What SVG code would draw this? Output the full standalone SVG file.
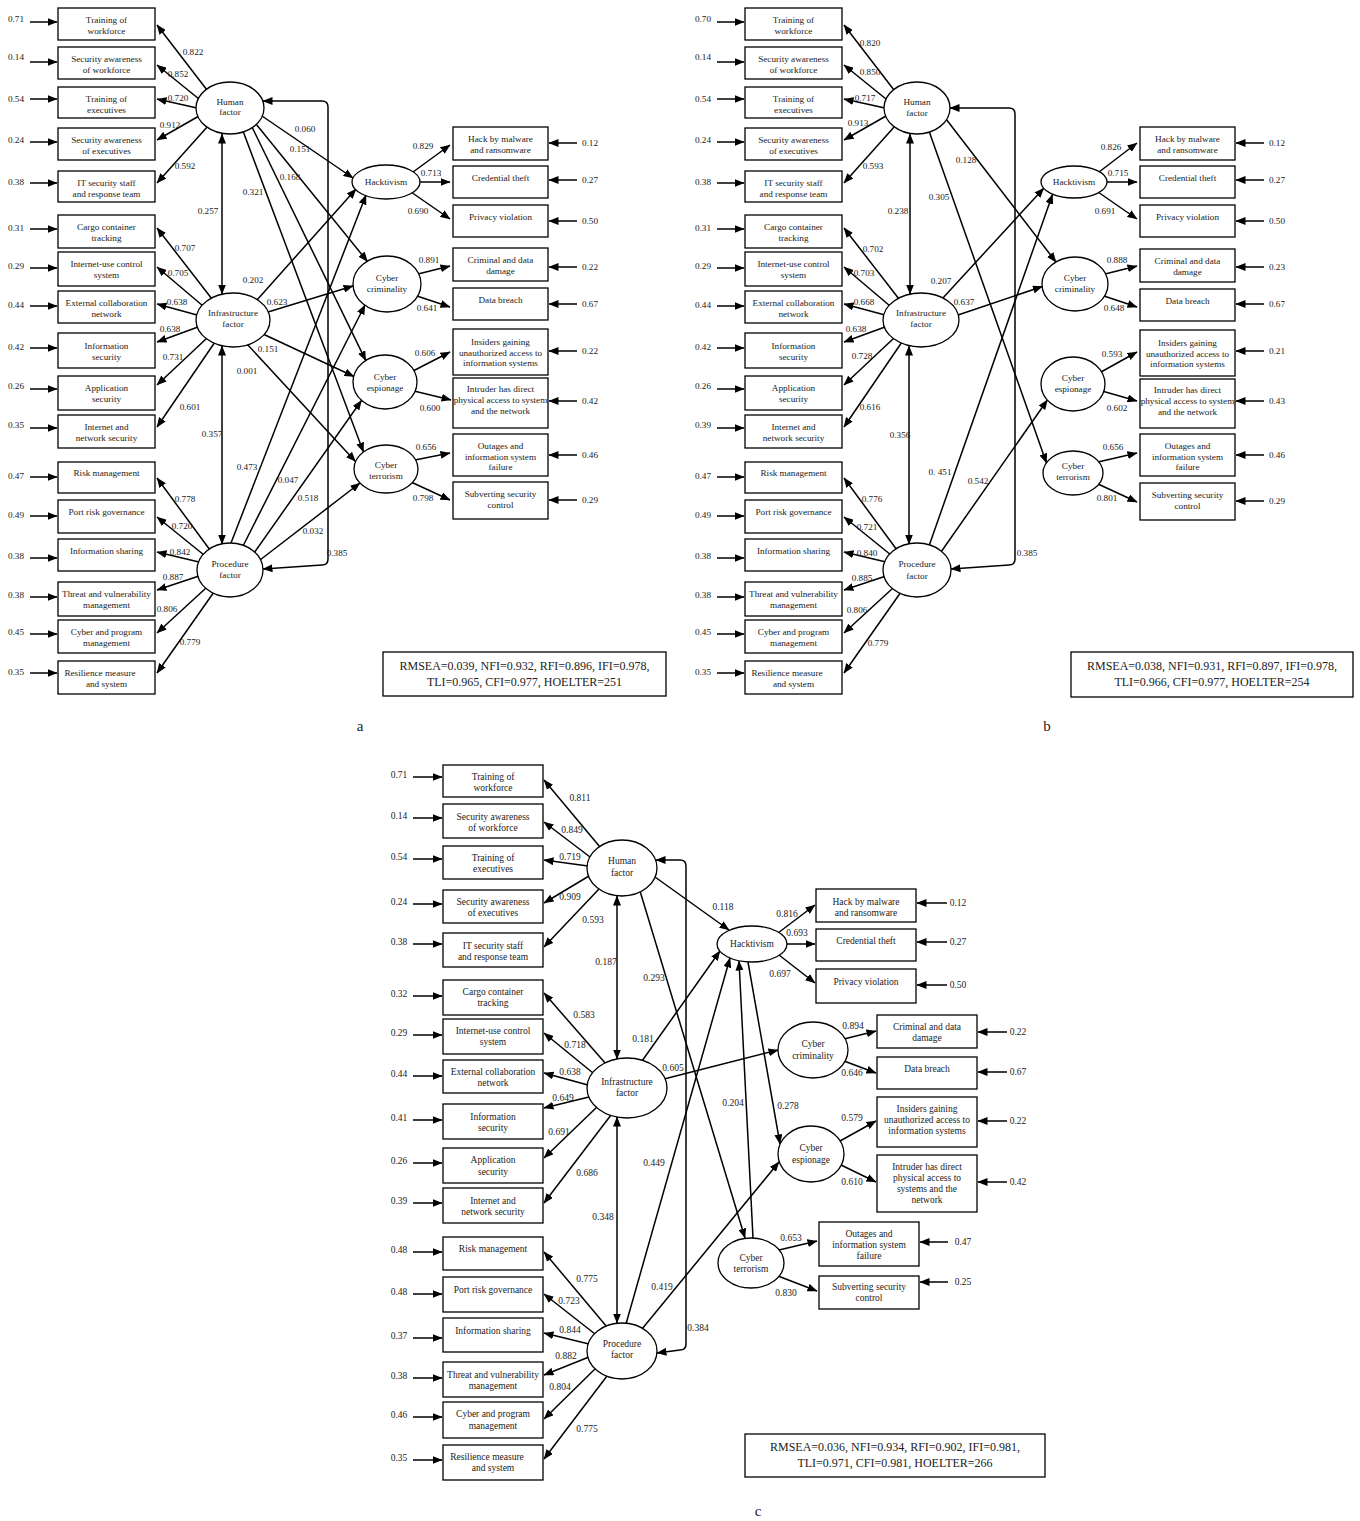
<svg xmlns="http://www.w3.org/2000/svg" width="1360" height="1521" viewBox="0 0 1360 1521">
<defs>
<marker id="ah" viewBox="0 0 10 8" refX="9.5" refY="4" markerWidth="10" markerHeight="8" markerUnits="userSpaceOnUse" orient="auto-start-reverse"><path d="M0,0L10,4L0,8z" fill="#000"/></marker>
</defs>
<style>
.bx{fill:#fff;stroke:#000;stroke-width:1.3}
.el{fill:#fff;stroke:#000;stroke-width:1.3}
.c{fill:none;stroke:#000;stroke-width:1.5;marker-end:url(#ah)}
.d{marker-start:url(#ah)}
text{font-family:"Liberation Serif","Times New Roman",serif;font-size:9.2px;text-anchor:middle;fill:#222}
.pc text{font-size:9.5px}
text.fit{font-size:12px}
text.pl{font-size:15px}
</style>
<rect width="1360" height="1521" fill="#fff"/>

<!-- ================= PANEL A ================= -->
<g id="panel-a">
<g id="a-connectors">
<path class="c" d="M30,22L57,22"/><path class="c" d="M30,62L57,62"/><path class="c" d="M30,99L57,99"/><path class="c" d="M30,142L57,142"/><path class="c" d="M30,183L57,183"/><path class="c" d="M30,229L57,229"/><path class="c" d="M30,268L57,268"/><path class="c" d="M30,306L57,306"/><path class="c" d="M30,348L57,348"/><path class="c" d="M30,389L57,389"/><path class="c" d="M30,428L57,428"/><path class="c" d="M30,477L57,477"/><path class="c" d="M30,516L57,516"/><path class="c" d="M30,558L57,558"/><path class="c" d="M30,597L57,597"/><path class="c" d="M30,634L57,634"/><path class="c" d="M30,673L57,673"/>
<path class="c" d="M207,90L157,25"/><path class="c" d="M199,99L157,65"/><path class="c" d="M197,108L157,99"/><path class="c" d="M199,116L157,140"/><path class="c" d="M208,126L157,183"/>
<path class="c" d="M212,299L157,228"/><path class="c" d="M203,306L157,267"/><path class="c" d="M197,315L157,304"/><path class="c" d="M198,327L157,342"/><path class="c" d="M207,338L157,385"/><path class="c" d="M215,342L157,427"/>
<path class="c" d="M210,550L157,478"/><path class="c" d="M204,555L157,517"/><path class="c" d="M199,562L157,552"/><path class="c" d="M199,576L157,590"/><path class="c" d="M206,588L157,633"/><path class="c" d="M214,592L157,673"/>
<path class="c d" d="M222,134L222,294"/><path class="c d" d="M222,346L222,544"/>
<path class="c d" d="M263,101L322,101Q328,101 328,107L328,559Q328,565 322,565L263,569"/>
<path class="c" d="M262,116L353,178"/><path class="c" d="M256,124L367.5,261.5"/><path class="c" d="M252,127L365.8,360.6"/><path class="c" d="M243,131L363.5,452"/>
<path class="c" d="M257,300L356,189"/><path class="c" d="M268,312L353,286"/><path class="c" d="M263,334L354,376.5"/><path class="c" d="M247,344L355.5,461.5"/>
<path class="c" d="M231,543L366,195"/><path class="c" d="M243,546L365,305"/><path class="c" d="M254,553L361.5,400.5"/><path class="c" d="M260,560L360,483"/>
<path class="c" d="M413,172L450,145"/><path class="c" d="M419,182L450,182"/><path class="c" d="M411,192L450,219"/><path class="c" d="M418,274L450,266"/><path class="c" d="M417,296L450,307"/><path class="c" d="M413,371L450,352"/><path class="c" d="M414,391L451,400"/><path class="c" d="M415,460L450,453"/><path class="c" d="M411,482L450,500"/>
<path class="c" d="M577,143L549,143"/><path class="c" d="M577,180L549,180"/><path class="c" d="M577,221L549,221"/><path class="c" d="M577,267L549,267"/><path class="c" d="M577,304L549,304"/><path class="c" d="M577,351L549,351"/><path class="c" d="M577,401L549,401"/><path class="c" d="M577,455L549,455"/><path class="c" d="M577,500L549,500"/>
</g>
<g id="a-nodes">
<g id="a-n1"><rect class="bx" x="58" y="8" width="97" height="32"/><text x="106.5" y="23">Training of</text><text x="106.5" y="34">workforce</text></g>
<g id="a-n2"><rect class="bx" x="58" y="47" width="97" height="32"/><text x="106.5" y="62">Security awareness</text><text x="106.5" y="73">of workforce</text></g>
<g id="a-n3"><rect class="bx" x="58" y="87" width="97" height="31"/><text x="106.5" y="102">Training of</text><text x="106.5" y="113">executives</text></g>
<g id="a-n4"><rect class="bx" x="58" y="128" width="97" height="32"/><text x="106.5" y="143">Security awareness</text><text x="106.5" y="154">of executives</text></g>
<g id="a-n5"><rect class="bx" x="58" y="171" width="97" height="31"/><text x="106.5" y="186">IT security staff</text><text x="106.5" y="197">and response team</text></g>
<g id="a-n6"><rect class="bx" x="58" y="215" width="97" height="33"/><text x="106.5" y="230">Cargo container</text><text x="106.5" y="241">tracking</text></g>
<g id="a-n7"><rect class="bx" x="58" y="252" width="97" height="34"/><text x="106.5" y="267">Internet-use control</text><text x="106.5" y="278">system</text></g>
<g id="a-n8"><rect class="bx" x="58" y="291" width="97" height="32"/><text x="106.5" y="306">External collaboration</text><text x="106.5" y="317">network</text></g>
<g id="a-n9"><rect class="bx" x="58" y="333" width="97" height="35"/><text x="106.5" y="349">Information</text><text x="106.5" y="360">security</text></g>
<g id="a-n10"><rect class="bx" x="58" y="376" width="97" height="34"/><text x="106.5" y="391">Application</text><text x="106.5" y="402">security</text></g>
<g id="a-n11"><rect class="bx" x="58" y="415" width="97" height="33"/><text x="106.5" y="430">Internet and</text><text x="106.5" y="441">network security</text></g>
<g id="a-n12"><rect class="bx" x="58" y="462" width="97" height="31"/><text x="106.5" y="476">Risk management</text></g>
<g id="a-n13"><rect class="bx" x="58" y="500" width="97" height="33"/><text x="106.5" y="515">Port risk governance</text></g>
<g id="a-n14"><rect class="bx" x="58" y="539" width="97" height="32"/><text x="106.5" y="554">Information sharing</text></g>
<g id="a-n15"><rect class="bx" x="58" y="582" width="97" height="34"/><text x="106.5" y="597">Threat and vulnerability</text><text x="106.5" y="608">management</text></g>
<g id="a-n16"><rect class="bx" x="58" y="620" width="97" height="33"/><text x="106.5" y="635">Cyber and program</text><text x="106.5" y="646">management</text></g>
<g id="a-n17"><rect class="bx" x="58" y="661" width="97" height="33"/><text x="100" y="676">Resilience measure</text><text x="106.5" y="687">and system</text></g>
<g id="a-human"><ellipse class="el" cx="230" cy="108" rx="34" ry="26"/><text x="230" y="105">Human</text><text x="230" y="115">factor</text></g>
<g id="a-infra"><ellipse class="el" cx="233" cy="320" rx="37" ry="27"/><text x="233" y="316">Infrastructure</text><text x="233" y="327">factor</text></g>
<g id="a-proc"><ellipse class="el" cx="230" cy="570" rx="33" ry="27"/><text x="230" y="567">Procedure</text><text x="230" y="578">factor</text></g>
<g id="a-hack"><ellipse class="el" cx="386" cy="182" rx="34" ry="17"/><text x="386" y="185">Hacktivism</text></g>
<g id="a-crim"><ellipse class="el" cx="387" cy="284" rx="34" ry="28"/><text x="387" y="281">Cyber</text><text x="387" y="292">criminality</text></g>
<g id="a-esp"><ellipse class="el" cx="385" cy="382" rx="32" ry="27"/><text x="385" y="380">Cyber</text><text x="385" y="391">espionage</text></g>
<g id="a-terr"><ellipse class="el" cx="386" cy="469" rx="32" ry="24"/><text x="386" y="468">Cyber</text><text x="386" y="479">terrorism</text></g>
<g id="a-r1"><rect class="bx" x="453" y="127" width="95" height="33"/><text x="500.5" y="142">Hack by malware</text><text x="500.5" y="153">and ransomware</text></g>
<g id="a-r2"><rect class="bx" x="453" y="166" width="95" height="32"/><text x="500.5" y="181">Credential theft</text></g>
<g id="a-r3"><rect class="bx" x="453" y="205" width="95" height="32"/><text x="500.5" y="220">Privacy violation</text></g>
<g id="a-r4"><rect class="bx" x="453" y="248" width="95" height="33"/><text x="500.5" y="263">Criminal and data</text><text x="500.5" y="274">damage</text></g>
<g id="a-r5"><rect class="bx" x="453" y="288" width="95" height="32"/><text x="500.5" y="303">Data breach</text></g>
<g id="a-r6"><rect class="bx" x="453" y="329" width="95" height="46"/><text x="500.5" y="345">Insiders gaining</text><text x="500.5" y="355.5">unauthorized access to</text><text x="500.5" y="366">information systems</text></g>
<g id="a-r7"><rect class="bx" x="453" y="378" width="95" height="50"/><text x="500.5" y="392">Intruder has direct</text><text x="500.5" y="403">physical access to system</text><text x="500.5" y="414">and the network</text></g>
<g id="a-r8"><rect class="bx" x="453" y="434" width="95" height="42"/><text x="500.5" y="449">Outages and</text><text x="500.5" y="460">information system</text><text x="500.5" y="470">failure</text></g>
<g id="a-r9"><rect class="bx" x="453" y="482" width="95" height="37"/><text x="500.5" y="497">Subverting security</text><text x="500.5" y="508">control</text></g>
<g id="a-fit"><rect class="bx" x="383" y="652" width="283" height="44"/><text class="fit" x="524.5" y="670">RMSEA=0.039, NFI=0.932, RFI=0.896, IFI=0.978,</text><text class="fit" x="524.5" y="686">TLI=0.965, CFI=0.977, HOELTER=251</text></g>
</g>
<g id="a-labels">
<text x="16" y="22">0.71</text><text x="16" y="60">0.14</text><text x="16" y="102">0.54</text><text x="16" y="143">0.24</text><text x="16" y="185">0.38</text><text x="16" y="231">0.31</text><text x="16" y="269">0.29</text><text x="16" y="308">0.44</text><text x="16" y="350">0.42</text><text x="16" y="389">0.26</text><text x="16" y="428">0.35</text><text x="16" y="479">0.47</text><text x="16" y="518">0.49</text><text x="16" y="559">0.38</text><text x="16" y="598">0.38</text><text x="16" y="635">0.45</text><text x="16" y="675">0.35</text>
<text x="193" y="55">0.822</text><text x="178" y="77">0.852</text><text x="178" y="101">0.720</text><text x="170" y="128">0.912</text><text x="185" y="169">0.592</text><text x="185" y="251">0.707</text><text x="178" y="276">0.705</text><text x="177" y="305">0.638</text><text x="170" y="332">0.638</text><text x="173" y="360">0.731</text><text x="190" y="410">0.601</text><text x="185" y="502">0.778</text><text x="182" y="529">0.720</text><text x="180" y="555">0.842</text><text x="173" y="580">0.887</text><text x="167" y="612">0.806</text><text x="190" y="645">0.779</text>
<text x="208" y="214">0.257</text><text x="212" y="437">0.357</text><text x="305" y="132">0.060</text><text x="300" y="152">0.151</text><text x="290" y="180">0.168</text><text x="253" y="195">0.321</text><text x="253" y="283">0.202</text><text x="277" y="305">0.623</text><text x="268" y="352">0.151</text><text x="247" y="374">0.001</text><text x="247" y="470">0.473</text><text x="288" y="483">0.047</text><text x="308" y="501">0.518</text><text x="313" y="534">0.032</text><text x="337" y="556">0.385</text>
<text x="423" y="149">0.829</text><text x="431" y="176">0.713</text><text x="418" y="214">0.690</text><text x="429" y="263">0.891</text><text x="427" y="311">0.641</text><text x="425" y="356">0.606</text><text x="430" y="411">0.600</text><text x="426" y="450">0.656</text><text x="423" y="501">0.798</text>
<text x="590" y="146">0.12</text><text x="590" y="183">0.27</text><text x="590" y="224">0.50</text><text x="590" y="270">0.22</text><text x="590" y="307">0.67</text><text x="590" y="354">0.22</text><text x="590" y="404">0.42</text><text x="590" y="458">0.46</text><text x="590" y="503">0.29</text>
<text class="pl" x="360" y="731">a</text>
</g>
</g>

<!-- ================= PANEL B ================= -->
<g id="panel-b" transform="translate(687,0)">
<g id="b-connectors">
<path class="c" d="M30,22L57,22"/><path class="c" d="M30,62L57,62"/><path class="c" d="M30,99L57,99"/><path class="c" d="M30,142L57,142"/><path class="c" d="M30,183L57,183"/><path class="c" d="M30,229L57,229"/><path class="c" d="M30,268L57,268"/><path class="c" d="M30,306L57,306"/><path class="c" d="M30,348L57,348"/><path class="c" d="M30,389L57,389"/><path class="c" d="M30,428L57,428"/><path class="c" d="M30,477L57,477"/><path class="c" d="M30,516L57,516"/><path class="c" d="M30,558L57,558"/><path class="c" d="M30,597L57,597"/><path class="c" d="M30,634L57,634"/><path class="c" d="M30,673L57,673"/>
<path class="c" d="M207,90L157,25"/><path class="c" d="M199,99L157,65"/><path class="c" d="M198,108L157,99"/><path class="c" d="M199,116L157,140"/><path class="c" d="M208,126L157,183"/>
<path class="c" d="M212,299L157,228"/><path class="c" d="M203,306L157,267"/><path class="c" d="M198,315L157,304"/><path class="c" d="M198,327L157,342"/><path class="c" d="M207,338L157,385"/><path class="c" d="M215,342L157,427"/>
<path class="c" d="M210,550L157,478"/><path class="c" d="M204,555L157,517"/><path class="c" d="M199,562L157,552"/><path class="c" d="M199,576L157,590"/><path class="c" d="M206,588L157,633"/><path class="c" d="M214,592L157,673"/>
<path class="c d" d="M223,134L223,294"/><path class="c d" d="M222,346L222,544"/>
<path class="c d" d="M263,108L322,108Q328,108 328,114L328,559Q328,565 322,565L264,569"/>
<path class="c" d="M259,119L369,262"/><path class="c" d="M242,131L359.5,463"/>
<path class="c" d="M255,299L356.8,188.2"/><path class="c" d="M271,315L355.4,286.5"/>
<path class="c" d="M242,546L365.5,194.4"/><path class="c" d="M254,552L360.4,400"/>
<path class="c" d="M412,172L450,143"/><path class="c" d="M420,182L450,182"/><path class="c" d="M411,192L450,219"/><path class="c" d="M418,274L450,266"/><path class="c" d="M417,296L450,307"/><path class="c" d="M414,372L450,352"/><path class="c" d="M415,391L450,401"/><path class="c" d="M411,462L450,453"/><path class="c" d="M411,484L450,502"/>
<path class="c" d="M577,143L549,143"/><path class="c" d="M577,180L549,180"/><path class="c" d="M577,221L549,221"/><path class="c" d="M577,267L549,267"/><path class="c" d="M577,304L549,304"/><path class="c" d="M577,351L549,351"/><path class="c" d="M577,401L549,401"/><path class="c" d="M577,455L549,455"/><path class="c" d="M577,501L549,501"/>
</g>
<g id="b-nodes">
<g id="b-n1"><rect class="bx" x="58" y="8" width="97" height="32"/><text x="106.5" y="23">Training of</text><text x="106.5" y="34">workforce</text></g>
<g id="b-n2"><rect class="bx" x="58" y="47" width="97" height="32"/><text x="106.5" y="62">Security awareness</text><text x="106.5" y="73">of workforce</text></g>
<g id="b-n3"><rect class="bx" x="58" y="87" width="97" height="31"/><text x="106.5" y="102">Training of</text><text x="106.5" y="113">executives</text></g>
<g id="b-n4"><rect class="bx" x="58" y="128" width="97" height="32"/><text x="106.5" y="143">Security awareness</text><text x="106.5" y="154">of executives</text></g>
<g id="b-n5"><rect class="bx" x="58" y="171" width="97" height="31"/><text x="106.5" y="186">IT security staff</text><text x="106.5" y="197">and response team</text></g>
<g id="b-n6"><rect class="bx" x="58" y="215" width="97" height="33"/><text x="106.5" y="230">Cargo container</text><text x="106.5" y="241">tracking</text></g>
<g id="b-n7"><rect class="bx" x="58" y="252" width="97" height="34"/><text x="106.5" y="267">Internet-use control</text><text x="106.5" y="278">system</text></g>
<g id="b-n8"><rect class="bx" x="58" y="291" width="97" height="32"/><text x="106.5" y="306">External collaboration</text><text x="106.5" y="317">network</text></g>
<g id="b-n9"><rect class="bx" x="58" y="333" width="97" height="35"/><text x="106.5" y="349">Information</text><text x="106.5" y="360">security</text></g>
<g id="b-n10"><rect class="bx" x="58" y="376" width="97" height="34"/><text x="106.5" y="391">Application</text><text x="106.5" y="402">security</text></g>
<g id="b-n11"><rect class="bx" x="58" y="415" width="97" height="33"/><text x="106.5" y="430">Internet and</text><text x="106.5" y="441">network security</text></g>
<g id="b-n12"><rect class="bx" x="58" y="462" width="97" height="31"/><text x="106.5" y="476">Risk management</text></g>
<g id="b-n13"><rect class="bx" x="58" y="500" width="97" height="33"/><text x="106.5" y="515">Port risk governance</text></g>
<g id="b-n14"><rect class="bx" x="58" y="539" width="97" height="32"/><text x="106.5" y="554">Information sharing</text></g>
<g id="b-n15"><rect class="bx" x="58" y="582" width="97" height="34"/><text x="106.5" y="597">Threat and vulnerability</text><text x="106.5" y="608">management</text></g>
<g id="b-n16"><rect class="bx" x="58" y="620" width="97" height="33"/><text x="106.5" y="635">Cyber and program</text><text x="106.5" y="646">management</text></g>
<g id="b-n17"><rect class="bx" x="58" y="661" width="97" height="33"/><text x="100" y="676">Resilience measure</text><text x="106.5" y="687">and system</text></g>
<g id="b-human"><ellipse class="el" cx="230" cy="108" rx="33" ry="26"/><text x="230" y="105">Human</text><text x="230" y="116">factor</text></g>
<g id="b-infra"><ellipse class="el" cx="234" cy="320" rx="38" ry="27"/><text x="234" y="316">Infrastructure</text><text x="234" y="327">factor</text></g>
<g id="b-proc"><ellipse class="el" cx="230" cy="570" rx="34" ry="27"/><text x="230" y="567">Procedure</text><text x="230" y="579">factor</text></g>
<g id="b-hack"><ellipse class="el" cx="387" cy="182" rx="33" ry="16"/><text x="387" y="185">Hacktivism</text></g>
<g id="b-crim"><ellipse class="el" cx="388" cy="284" rx="33" ry="27"/><text x="388" y="281">Cyber</text><text x="388" y="292">criminality</text></g>
<g id="b-esp"><ellipse class="el" cx="386" cy="384" rx="32" ry="27"/><text x="386" y="381">Cyber</text><text x="386" y="392">espionage</text></g>
<g id="b-terr"><ellipse class="el" cx="386" cy="473" rx="30" ry="22"/><text x="386" y="469">Cyber</text><text x="386" y="480">terrorism</text></g>
<g id="b-r1"><rect class="bx" x="453" y="127" width="95" height="33"/><text x="500.5" y="142">Hack by malware</text><text x="500.5" y="153">and ransomware</text></g>
<g id="b-r2"><rect class="bx" x="453" y="166" width="95" height="32"/><text x="500.5" y="181">Credential theft</text></g>
<g id="b-r3"><rect class="bx" x="453" y="205" width="95" height="32"/><text x="500.5" y="220">Privacy violation</text></g>
<g id="b-r4"><rect class="bx" x="453" y="249" width="95" height="33"/><text x="500.5" y="264">Criminal and data</text><text x="500.5" y="275">damage</text></g>
<g id="b-r5"><rect class="bx" x="453" y="289" width="95" height="32"/><text x="500.5" y="304">Data breach</text></g>
<g id="b-r6"><rect class="bx" x="453" y="330" width="95" height="46"/><text x="500.5" y="346">Insiders gaining</text><text x="500.5" y="356.5">unauthorized access to</text><text x="500.5" y="367">information systems</text></g>
<g id="b-r7"><rect class="bx" x="453" y="379" width="95" height="49"/><text x="500.5" y="393">Intruder has direct</text><text x="500.5" y="404">physical access to system</text><text x="500.5" y="415">and the network</text></g>
<g id="b-r8"><rect class="bx" x="453" y="434" width="95" height="42"/><text x="500.5" y="449">Outages and</text><text x="500.5" y="460">information system</text><text x="500.5" y="470">failure</text></g>
<g id="b-r9"><rect class="bx" x="453" y="483" width="95" height="37"/><text x="500.5" y="498">Subverting security</text><text x="500.5" y="509">control</text></g>
<g id="b-fit"><rect class="bx" x="384" y="652" width="282" height="45"/><text class="fit" x="525" y="670">RMSEA=0.038, NFI=0.931, RFI=0.897, IFI=0.978,</text><text class="fit" x="525" y="686">TLI=0.966, CFI=0.977, HOELTER=254</text></g>
</g>
<g id="b-labels">
<text x="16" y="22">0.70</text><text x="16" y="60">0.14</text><text x="16" y="102">0.54</text><text x="16" y="143">0.24</text><text x="16" y="185">0.38</text><text x="16" y="231">0.31</text><text x="16" y="269">0.29</text><text x="16" y="308">0.44</text><text x="16" y="350">0.42</text><text x="16" y="389">0.26</text><text x="16" y="428">0.39</text><text x="16" y="479">0.47</text><text x="16" y="518">0.49</text><text x="16" y="559">0.38</text><text x="16" y="598">0.38</text><text x="16" y="635">0.45</text><text x="16" y="675">0.35</text>
<text x="183" y="46">0.820</text><text x="183" y="75">0.850</text><text x="178" y="101">0.717</text><text x="171" y="126">0.913</text><text x="186" y="169">0.593</text><text x="186" y="252">0.702</text><text x="177" y="276">0.703</text><text x="177" y="305">0.668</text><text x="169" y="332">0.638</text><text x="175" y="359">0.728</text><text x="183" y="410">0.616</text><text x="185" y="502">0.776</text><text x="180" y="530">0.721</text><text x="180" y="556">0.840</text><text x="175" y="581">0.885</text><text x="170" y="613">0.806</text><text x="191" y="646">0.779</text>
<text x="211" y="214">0.238</text><text x="213" y="438">0.356</text><text x="279" y="163">0.128</text><text x="252" y="200">0.305</text><text x="254" y="284">0.207</text><text x="277" y="305">0.637</text><text x="253" y="475">0. 451</text><text x="291" y="484">0.542</text><text x="340" y="556">0.385</text>
<text x="424" y="150">0.826</text><text x="431" y="176">0.715</text><text x="418" y="214">0.691</text><text x="430" y="263">0.888</text><text x="427" y="311">0.648</text><text x="425" y="357">0.593</text><text x="430" y="411">0.602</text><text x="426" y="450">0.656</text><text x="420" y="501">0.801</text>
<text x="590" y="146">0.12</text><text x="590" y="183">0.27</text><text x="590" y="224">0.50</text><text x="590" y="270">0.23</text><text x="590" y="307">0.67</text><text x="590" y="354">0.21</text><text x="590" y="404">0.43</text><text x="590" y="458">0.46</text><text x="590" y="504">0.29</text>
<text class="pl" x="360" y="731">b</text>
</g>
</g>

<!-- ================= PANEL C ================= -->
<g id="panel-c" class="pc">
<g id="c-connectors">
<path class="c" d="M413,777L442,777"/><path class="c" d="M413,818L442,818"/><path class="c" d="M413,859L442,859"/><path class="c" d="M413,904L442,904"/><path class="c" d="M413,944L442,944"/><path class="c" d="M413,996L442,996"/><path class="c" d="M413,1035L442,1035"/><path class="c" d="M413,1076L442,1076"/><path class="c" d="M413,1120L442,1120"/><path class="c" d="M413,1163L442,1163"/><path class="c" d="M413,1203L442,1203"/><path class="c" d="M413,1252L442,1252"/><path class="c" d="M413,1294L442,1294"/><path class="c" d="M413,1338L442,1338"/><path class="c" d="M413,1378L442,1378"/><path class="c" d="M413,1417L442,1417"/><path class="c" d="M413,1460L442,1460"/>
<path class="c" d="M600,847L544,780"/><path class="c" d="M590,857L544,822"/><path class="c" d="M588,866L544,860"/><path class="c" d="M589,876L544,903"/><path class="c" d="M599,889L544,947"/>
<path class="c" d="M606,1064L544,993"/><path class="c" d="M593,1073L544,1033"/><path class="c" d="M588,1085L544,1073"/><path class="c" d="M589,1097L544,1108"/><path class="c" d="M597,1107L544,1158"/><path class="c" d="M611,1115L544,1203"/>
<path class="c" d="M607,1327L544,1252"/><path class="c" d="M595,1334L544,1294"/><path class="c" d="M589,1344L544,1333"/><path class="c" d="M589,1357L544,1375"/><path class="c" d="M596,1368L544,1419"/><path class="c" d="M607,1376L544,1459"/>
<path class="c d" d="M617,896L617,1059"/><path class="c d" d="M617,1117L617,1323"/>
<path class="c d" d="M656,860L680,860Q686,860 686,866L686,1344Q686,1350 680,1350L657,1353"/>
<path class="c" d="M655,877L729,930"/><path class="c" d="M640,891L745,1238"/>
<path class="c" d="M642,1061L720,951"/><path class="c" d="M664,1079L778,1050"/>
<path class="c" d="M626,1324L730,958"/><path class="c" d="M642,1329L779,1162"/>
<path class="c" d="M753,1238L739,961"/><path class="c" d="M748,962L780,1144"/>
<path class="c" d="M778,933L815,905"/><path class="c" d="M786,944L815,944"/><path class="c" d="M779,955L815,983"/><path class="c" d="M844,1039L876,1031"/><path class="c" d="M844,1061L876,1073"/><path class="c" d="M840,1141L876,1121"/><path class="c" d="M841,1165L876,1182"/><path class="c" d="M779,1250L817,1241"/><path class="c" d="M778,1276L817,1291"/>
<path class="c" d="M947,903L917,903"/><path class="c" d="M947,942L917,942"/><path class="c" d="M947,985L917,985"/><path class="c" d="M1007,1032L978,1032"/><path class="c" d="M1007,1072L978,1072"/><path class="c" d="M1007,1121L978,1121"/><path class="c" d="M1007,1182L978,1182"/><path class="c" d="M948,1242L920,1242"/><path class="c" d="M948,1282L920,1282"/>
</g>
<g id="c-nodes">
<g id="c-n1"><rect class="bx" x="443" y="765" width="100" height="32"/><text x="493" y="780">Training of</text><text x="493" y="791">workforce</text></g>
<g id="c-n2"><rect class="bx" x="443" y="804" width="100" height="34"/><text x="493" y="820">Security awareness</text><text x="493" y="831">of workforce</text></g>
<g id="c-n3"><rect class="bx" x="443" y="846" width="100" height="33"/><text x="493" y="861">Training of</text><text x="493" y="872">executives</text></g>
<g id="c-n4"><rect class="bx" x="443" y="890" width="100" height="33"/><text x="493" y="905">Security awareness</text><text x="493" y="916">of executives</text></g>
<g id="c-n5"><rect class="bx" x="443" y="933" width="100" height="34"/><text x="493" y="949">IT security staff</text><text x="493" y="960">and response team</text></g>
<g id="c-n6"><rect class="bx" x="443" y="980" width="100" height="35"/><text x="493" y="995">Cargo container</text><text x="493" y="1006">tracking</text></g>
<g id="c-n7"><rect class="bx" x="443" y="1019" width="100" height="35"/><text x="493" y="1034">Internet-use control</text><text x="493" y="1045">system</text></g>
<g id="c-n8"><rect class="bx" x="443" y="1060" width="100" height="33"/><text x="493" y="1075">External collaboration</text><text x="493" y="1086">network</text></g>
<g id="c-n9"><rect class="bx" x="443" y="1104" width="100" height="35"/><text x="493" y="1120">Information</text><text x="493" y="1131">security</text></g>
<g id="c-n10"><rect class="bx" x="443" y="1148" width="100" height="35"/><text x="493" y="1163">Application</text><text x="493" y="1175">security</text></g>
<g id="c-n11"><rect class="bx" x="443" y="1188" width="100" height="35"/><text x="493" y="1204">Internet and</text><text x="493" y="1215">network security</text></g>
<g id="c-n12"><rect class="bx" x="443" y="1237" width="100" height="33"/><text x="493" y="1252">Risk management</text></g>
<g id="c-n13"><rect class="bx" x="443" y="1277" width="100" height="35"/><text x="493" y="1293">Port risk governance</text></g>
<g id="c-n14"><rect class="bx" x="443" y="1318" width="100" height="34"/><text x="493" y="1334">Information sharing</text></g>
<g id="c-n15"><rect class="bx" x="443" y="1362" width="100" height="35"/><text x="493" y="1378">Threat and vulnerability</text><text x="493" y="1389">management</text></g>
<g id="c-n16"><rect class="bx" x="443" y="1402" width="100" height="36"/><text x="493" y="1417">Cyber and program</text><text x="493" y="1429">management</text></g>
<g id="c-n17"><rect class="bx" x="443" y="1445" width="100" height="35"/><text x="487" y="1460">Resilience measure</text><text x="493" y="1471">and system</text></g>
<g id="c-human"><ellipse class="el" cx="622" cy="868" rx="35" ry="28"/><text x="622" y="864">Human</text><text x="622" y="876">factor</text></g>
<g id="c-infra"><ellipse class="el" cx="627" cy="1088" rx="40" ry="30"/><text x="627" y="1085">Infrastructure</text><text x="627" y="1096">factor</text></g>
<g id="c-proc"><ellipse class="el" cx="622" cy="1351" rx="35" ry="28"/><text x="622" y="1347">Procedure</text><text x="622" y="1358">factor</text></g>
<g id="c-hack"><ellipse class="el" cx="752" cy="944" rx="35" ry="18"/><text x="752" y="947">Hacktivism</text></g>
<g id="c-crim"><ellipse class="el" cx="813" cy="1050" rx="35" ry="28"/><text x="813" y="1047">Cyber</text><text x="813" y="1059">criminality</text></g>
<g id="c-esp"><ellipse class="el" cx="811" cy="1154" rx="33" ry="28"/><text x="811" y="1151">Cyber</text><text x="811" y="1163">espionage</text></g>
<g id="c-terr"><ellipse class="el" cx="751" cy="1263" rx="33" ry="25"/><text x="751" y="1261">Cyber</text><text x="751" y="1272">terrorism</text></g>
<g id="c-r1"><rect class="bx" x="816" y="889" width="100" height="33"/><text x="866" y="905">Hack by malware</text><text x="866" y="915.5">and ransomware</text></g>
<g id="c-r2"><rect class="bx" x="816" y="929" width="100" height="32"/><text x="866" y="944">Credential theft</text></g>
<g id="c-r3"><rect class="bx" x="816" y="969" width="100" height="34"/><text x="866" y="985">Privacy violation</text></g>
<g id="c-r4"><rect class="bx" x="877" y="1015" width="100" height="33"/><text x="927" y="1030">Criminal and data</text><text x="927" y="1041">damage</text></g>
<g id="c-r5"><rect class="bx" x="877" y="1057" width="100" height="32"/><text x="927" y="1072">Data breach</text></g>
<g id="c-r6"><rect class="bx" x="877" y="1097" width="100" height="50"/><text x="927" y="1112">Insiders gaining</text><text x="927" y="1123">unauthorized access to</text><text x="927" y="1134">information systems</text></g>
<g id="c-r7"><rect class="bx" x="877" y="1155" width="100" height="57"/><text x="927" y="1170">Intruder has direct</text><text x="927" y="1181">physical access to</text><text x="927" y="1192">systems and the</text><text x="927" y="1203">network</text></g>
<g id="c-r8"><rect class="bx" x="819" y="1222" width="100" height="44"/><text x="869" y="1237">Outages and</text><text x="869" y="1248">information system</text><text x="869" y="1259">failure</text></g>
<g id="c-r9"><rect class="bx" x="819" y="1276" width="100" height="33"/><text x="869" y="1290">Subverting security</text><text x="869" y="1301">control</text></g>
<g id="c-fit"><rect class="bx" x="745" y="1434" width="300" height="43"/><text class="fit" x="895" y="1451">RMSEA=0.036, NFI=0.934, RFI=0.902, IFI=0.981,</text><text class="fit" x="895" y="1467">TLI=0.971, CFI=0.981, HOELTER=266</text></g>
</g>
<g id="c-labels">
<text x="399" y="778">0.71</text><text x="399" y="819">0.14</text><text x="399" y="860">0.54</text><text x="399" y="905">0.24</text><text x="399" y="945">0.38</text><text x="399" y="997">0.32</text><text x="399" y="1036">0.29</text><text x="399" y="1077">0.44</text><text x="399" y="1121">0.41</text><text x="399" y="1164">0.26</text><text x="399" y="1204">0.39</text><text x="399" y="1253">0.48</text><text x="399" y="1295">0.48</text><text x="399" y="1339">0.37</text><text x="399" y="1379">0.38</text><text x="399" y="1418">0.46</text><text x="399" y="1461">0.35</text>
<text x="580" y="801">0.811</text><text x="572" y="833">0.849</text><text x="570" y="860">0.719</text><text x="570" y="900">0.909</text><text x="593" y="923">0.593</text><text x="584" y="1018">0.583</text><text x="575" y="1048">0.718</text><text x="570" y="1075">0.638</text><text x="563" y="1101">0.649</text><text x="559" y="1135">0.691</text><text x="587" y="1176">0.686</text><text x="587" y="1282">0.775</text><text x="569" y="1304">0.723</text><text x="570" y="1333">0.844</text><text x="566" y="1359">0.882</text><text x="560" y="1390">0.804</text><text x="587" y="1432">0.775</text>
<text x="606" y="965">0.187</text><text x="603" y="1220">0.348</text><text x="698" y="1331">0.384</text><text x="723" y="910">0.118</text><text x="654" y="981">0.293</text><text x="643" y="1042">0.181</text><text x="673" y="1071">0.605</text><text x="654" y="1166">0.449</text><text x="662" y="1290">0.419</text><text x="733" y="1106">0.204</text><text x="788" y="1109">0.278</text>
<text x="787" y="917">0.816</text><text x="797" y="936">0.693</text><text x="780" y="977">0.697</text><text x="853" y="1029">0.894</text><text x="852" y="1076">0.646</text><text x="852" y="1121">0.579</text><text x="852" y="1185">0.610</text><text x="791" y="1241">0.653</text><text x="786" y="1296">0.830</text>
<text x="958" y="906">0.12</text><text x="958" y="945">0.27</text><text x="958" y="988">0.50</text><text x="1018" y="1035">0.22</text><text x="1018" y="1075">0.67</text><text x="1018" y="1124">0.22</text><text x="1018" y="1185">0.42</text><text x="963" y="1245">0.47</text><text x="963" y="1285">0.25</text>
<text class="pl" x="758" y="1516">c</text>
</g>
</g>
</svg>
